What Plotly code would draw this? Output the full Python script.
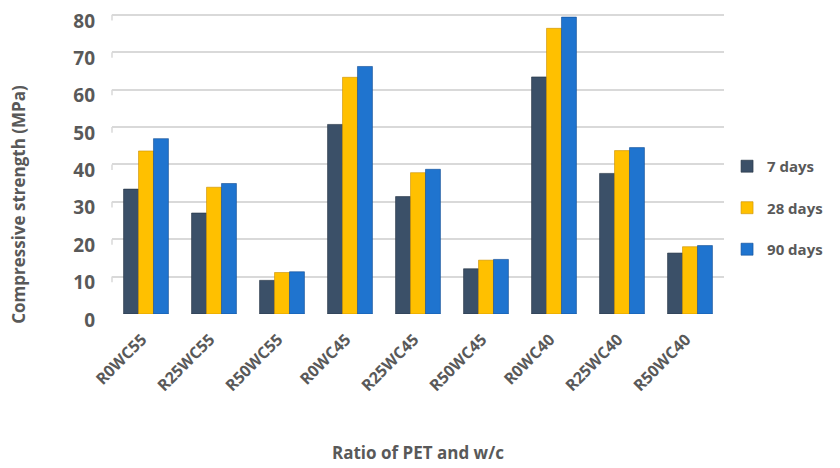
import plotly.graph_objects as go

categories = ["R0WC55", "R25WC55", "R50WC55", "R0WC45", "R25WC45", "R50WC45", "R0WC40", "R25WC40", "R50WC40"]
days7 = [33.4, 27.0, 9.0, 50.7, 31.4, 12.1, 63.4, 37.6, 16.3]
days28 = [43.6, 33.9, 11.1, 63.3, 37.8, 14.4, 76.4, 43.7, 18.0]
days90 = [46.9, 34.9, 11.3, 66.2, 38.7, 14.6, 79.4, 44.5, 18.3]
series_names = ["7 days", "28 days", "90 days"]
y_ticks = [0, 10, 20, 30, 40, 50, 60, 70, 80]

colors = ["#3B5068", "#FFC000", "#1F74CF"]
edge = ["#22303F", "#C98F00", "#124E93"]

fig = go.Figure()
for name, vals, c, e in zip(series_names, [days7, days28, days90], colors, edge):
    fig.add_trace(go.Bar(
        x=categories, y=vals, name=name, legendgroup=name,
        marker=dict(color=c, line=dict(color=e, width=0.6)),
    ))

# small wall-depth segments at the left end of each gridline
for v in y_ticks:
    fig.add_shape(type="line", xref="paper", yref="y", x0=0, x1=0, y0=v, y1=v - 1.5,
                  line=dict(color="#D9D9D9", width=1.5))

grey = "#595959"
fig.update_layout(
    width=832, height=460,
    paper_bgcolor="white", plot_bgcolor="white",
    margin=dict(l=104, r=116, t=5, b=154, autoexpand=False),
    barmode="group", bargap=0.34, bargroupgap=0,
    font=dict(family="Open Sans", color=grey),
    showlegend=True,
    legend=dict(x=1.005, y=0.545, xanchor="left", yanchor="top",
                font=dict(size=15, color=grey, family="Open Sans", weight="bold"),
                tracegroupgap=19, itemwidth=30),
    xaxis=dict(
        tickangle=-45, tickfont=dict(size=16, color=grey, family="Open Sans", weight="bold"),
        showline=False, showgrid=False, ticks="", automargin=False,
        ticklabelstandoff=12, ticklabelshift=-4,
    ),
    yaxis=dict(
        range=[0, 80.5], tickvals=y_ticks, automargin=False,
        tickfont=dict(size=19, color=grey, family="Open Sans", weight="bold"),
        showgrid=True, gridcolor="#D9D9D9", gridwidth=2,
        zeroline=False, showline=False, ticks="", ticklabelstandoff=16,
        ticklabelshift=6, ticklabeloverflow="allow",
    ),
    annotations=[
        dict(text="<b>Ratio of PET and w/c</b>", xref="paper", yref="paper",
             x=0.5, y=-0.46, xanchor="center", yanchor="middle", showarrow=False,
             font=dict(size=17, color=grey, family="Open Sans")),
        dict(text="<b>Compressive strength (MPa)</b>", xref="paper", yref="paper",
             x=-0.152, y=0.366, xanchor="center", yanchor="middle", showarrow=False,
             textangle=-90, font=dict(size=17, color=grey, family="Open Sans")),
    ],
)
fig.write_html("out.html")
